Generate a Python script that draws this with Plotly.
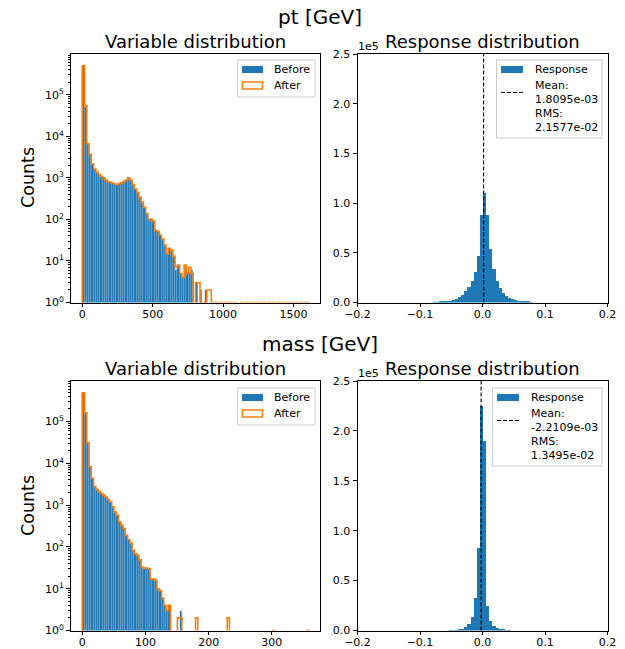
import numpy as np
import plotly.graph_objects as go

# ---------------- data ----------------
n_var_bins = 100
pt_max = 1608.0          # upper edge of the pt histogram range
mass_max = 358.4         # upper edge of the mass histogram range

pt_before = [500000, 50000, 6500, 3700, 2150, 1620, 1350, 1200, 1080, 1000,
             890, 810, 780, 740, 710, 690, 740, 760, 810, 890,
             1000, 890, 690, 540, 450, 340, 260, 195, 138, 100,
             100, 91, 55, 52, 42, 33, 24, 15, 20, 18,
             13, 6, 8, 5, 4, 7, 5, 5, 6, 1,
             3, 1, 2, 0, 2, 1, 0, 1, 0, 0,
             1, 0, 0, 1, 0, 0, 0, 1, 0, 0,
             0, 1, 0, 0, 0, 0, 1, 0, 0, 0,
             0, 0, 1, 0, 0, 0, 0, 0, 1, 0,
             0, 0, 0, 0, 0, 1, 0, 0, 0, 1]
pt_after = [500000, 55000, 6600, 3700, 2150, 1620, 1350, 1200, 1080, 1000,
            890, 810, 780, 740, 710, 690, 740, 760, 810, 890,
            1000, 890, 690, 540, 450, 340, 260, 195, 138, 100,
            100, 91, 55, 52, 42, 33, 24, 15, 20, 18,
            13, 7, 8, 5, 4, 8, 5, 7, 5, 0,
            3, 3, 1, 0, 1, 2, 2, 1, 0, 1,
            0, 1, 0, 1, 0, 1, 0, 1, 0, 0,
            1, 0, 1, 0, 1, 0, 1, 0, 1, 0,
            1, 0, 1, 0, 1, 0, 1, 0, 1, 0,
            1, 0, 1, 0, 1, 0, 1, 0, 1, 1]

mass_before = [490000, 162000, 31000, 8300, 4400, 2800, 2400, 2100, 1900, 1740,
               1580, 1380, 1200, 910, 690, 575, 400, 330, 275, 190,
               148, 123, 83, 69, 63, 49, 33, 31, 31, 30,
               17, 17, 16, 10, 9, 6, 4, 3, 4, 0,
               1, 0, 1, 3, 0, 0, 0, 0, 0, 0,
               1, 0, 0, 0, 0, 0, 0, 0, 0, 0,
               0, 0, 0, 0, 1, 0, 0, 0, 0, 0,
               0, 0, 0, 0, 0, 0, 0, 0, 0, 0,
               0, 0, 0, 0, 1, 0, 0, 0, 0, 0,
               0, 0, 0, 0, 0, 0, 0, 0, 0, 1]
mass_after = [490000, 162000, 31000, 8300, 4400, 2800, 2400, 2100, 1900, 1740,
              1580, 1380, 1200, 910, 690, 575, 400, 330, 275, 190,
              148, 123, 83, 69, 63, 49, 33, 31, 31, 30,
              17, 17, 16, 10, 9, 6, 4, 3, 4, 0,
              0, 0, 2, 2, 0, 0, 0, 0, 0, 0,
              2, 0, 0, 0, 0, 0, 0, 0, 0, 0,
              0, 0, 0, 0, 2, 0, 0, 0, 0, 0,
              0, 0, 0, 0, 0, 0, 0, 0, 0, 0,
              0, 0, 0, 0, 1, 0, 0, 0, 0, 0,
              0, 0, 0, 0, 0, 0, 0, 0, 0, 1]

resp_lo, resp_hi, resp_nbins = -0.2, 0.2, 80
pt_response = [0, 0, 0, 0, 0, 0, 0, 0, 0, 0,
               0, 0, 0, 0, 0, 0, 0, 0, 0, 0,
               0, 0, 0, 0, 340, 480, 680, 950, 1350, 1900,
               2700, 3800, 5500, 8000, 11500, 16000, 22000, 31000, 47000, 88000,
               110000, 88000, 54000, 34000, 22000, 14500, 10000, 7000, 4800, 3300,
               2300, 1600, 1100, 750, 520, 360, 0, 0, 0, 0,
               0, 0, 0, 0, 0, 0, 0, 0, 0, 0,
               0, 0, 0, 0, 0, 0, 0, 0, 0, 0]
mass_response = [0, 0, 0, 0, 0, 0, 0, 0, 0, 0,
                 0, 0, 0, 0, 0, 0, 0, 0, 0, 0,
                 0, 0, 0, 0, 0, 0, 0, 0, 0, 140,
                 250, 450, 850, 1700, 3300, 6700, 13700, 33000, 83000, 225000,
                 190000, 25000, 9300, 4800, 2500, 1300, 700, 380, 210, 0,
                 0, 0, 0, 0, 0, 0, 0, 0, 0, 0,
                 0, 0, 0, 0, 0, 0, 0, 0, 0, 0,
                 0, 0, 0, 0, 0, 0, 0, 0, 0, 0]

pt_mean, pt_rms = 1.8095e-03, 2.1577e-02
mass_mean, mass_rms = -2.2109e-03, 1.3495e-02

row_titles = ["pt [GeV]", "mass [GeV]"]
left_title = "Variable distribution"
right_title = "Response distribution"
y_label = "Counts"
var_legend_labels = ["Before", "After"]
resp_legend_label = "Response"
pt_ticks = [0, 500, 1000, 1500]
mass_ticks = [0, 100, 200, 300]
resp_ticks = [-0.2, -0.1, 0.0, 0.1, 0.2]
resp_ticktext = ["\u22120.2", "\u22120.1", "0.0", "0.1", "0.2"]
resp_yticks = [0, 50000, 100000, 150000, 200000, 250000]
resp_yticktext = ["0.0", "0.5", "1.0", "1.5", "2.0", "2.5"]

# ---------------- styling ----------------
W, H = 625, 649
BLUE = "#1f77b4"
ORANGE = "#ff7f0e"
FONT = "DejaVu Sans"


def px_x(v):
    return v / W


def px_y(v):
    return 1 - v / H


dom_x_left = [px_x(71), px_x(320)]
dom_x_right = [px_x(357.5), px_x(607.5)]
dom_y_top = [px_y(302.5), px_y(54)]
dom_y_bot = [px_y(630.5), px_y(381)]

fig = go.Figure()


def add_variable(counts_before, counts_after, vmax, xa, ya):
    edges = np.linspace(0, vmax, n_var_bins + 1)
    centers = 0.5 * (edges[:-1] + edges[1:])
    width = edges[1] - edges[0]
    b = np.array(counts_before, dtype=float)
    a = np.array(counts_after, dtype=float)
    fig.add_trace(go.Bar(x=centers, y=np.where(b > 1, b, np.nan), width=width,
                         marker=dict(color=BLUE, line=dict(color="rgba(255,255,255,0.35)", width=0.4)),
                         name=var_legend_labels[0], xaxis=xa, yaxis=ya))
    low = 0.3
    ay = np.where(a > 0, a, low)
    sx = np.concatenate([[edges[0]], edges[:-1], [edges[-1]], [edges[-1]]])
    sy = np.concatenate([[low], ay, [ay[-1]], [low]])
    fig.add_trace(go.Scatter(x=sx, y=sy, mode="lines", line=dict(color=ORANGE, width=1.6, shape="hv"),
                             name=var_legend_labels[1], xaxis=xa, yaxis=ya, hoverinfo="skip"))


def add_response(counts, mean, xa, ya):
    edges = np.linspace(resp_lo, resp_hi, resp_nbins + 1)
    centers = 0.5 * (edges[:-1] + edges[1:])
    width = edges[1] - edges[0]
    c = np.array(counts, dtype=float)
    fig.add_trace(go.Bar(x=centers, y=np.where(c > 0, c, np.nan), width=width,
                         marker=dict(color=BLUE, line=dict(width=0)),
                         name=resp_legend_label, xaxis=xa, yaxis=ya))
    fig.add_trace(go.Scatter(x=[mean, mean], y=[0, 250000], mode="lines",
                             line=dict(color="black", width=1.1, dash="4px,2px"),
                             name="Mean", xaxis=xa, yaxis=ya))


add_variable(pt_before, pt_after, pt_max, "x", "y")
add_response(pt_response, pt_mean, "x2", "y2")
add_variable(mass_before, mass_after, mass_max, "x3", "y3")
add_response(mass_response, mass_mean, "x4", "y4")

axis_common = dict(showline=True, mirror=True, linecolor="black", linewidth=0.9,
                   ticks="outside", ticklen=4, tickwidth=0.9, tickcolor="black",
                   showgrid=False, zeroline=False,
                   tickfont=dict(family=FONT, size=11, color="black"))

log_minor = [m * 10 ** e for e in range(0, 6) for m in range(2, 10)]
log_tickvals = [10 ** e for e in range(0, 6)]
log_ticktext = ["10<sup>%d</sup>" % e for e in range(0, 6)]


def log_yaxis(domain, anchor, top):
    return dict(axis_common, domain=domain, anchor=anchor, type="log", range=[0, top],
                tickvals=log_tickvals, ticktext=log_ticktext,
                minor=dict(tickvals=log_minor, ticks="outside", ticklen=2.2, tickwidth=0.7,
                           tickcolor="black", showgrid=False))


def var_xaxis(domain, anchor, vmax, ticks):
    pad = 0.05 * vmax
    return dict(axis_common, domain=domain, anchor=anchor, range=[-pad, vmax + pad],
                tickvals=ticks, ticktext=[str(t) for t in ticks], ticklabelstandoff=-3)


def resp_xaxis(domain, anchor):
    return dict(axis_common, domain=domain, anchor=anchor, range=[resp_lo, resp_hi],
                tickvals=resp_ticks, ticktext=resp_ticktext, ticklabelstandoff=-3)


def resp_yaxis(domain, anchor):
    return dict(axis_common, domain=domain, anchor=anchor, range=[0, 250000],
                tickvals=resp_yticks, ticktext=resp_yticktext)


fig.update_layout(
    width=W, height=H, margin=dict(l=0, r=0, t=0, b=0, autoexpand=False),
    paper_bgcolor="white", plot_bgcolor="white", bargap=0, barmode="overlay",
    font=dict(family=FONT, color="black"), showlegend=False,
    xaxis=var_xaxis(dom_x_left, "y", pt_max, pt_ticks),
    yaxis=log_yaxis(dom_y_top, "x", 5.98),
    xaxis2=resp_xaxis(dom_x_right, "y2"),
    yaxis2=resp_yaxis(dom_y_top, "x2"),
    xaxis3=var_xaxis(dom_x_left, "y3", mass_max, mass_ticks),
    yaxis3=log_yaxis(dom_y_bot, "x3", 5.97),
    xaxis4=resp_xaxis(dom_x_right, "y4"),
    yaxis4=resp_yaxis(dom_y_bot, "x4"),
)

annotations = []
shapes = []


def text(t, x, y, size, xanchor="left", angle=0, align="left"):
    annotations.append(dict(text=t, x=px_x(x), y=px_y(y), xref="paper", yref="paper",
                            showarrow=False, xanchor=xanchor, yanchor="middle", textangle=angle,
                            align=align, font=dict(family=FONT, size=size, color="black")))


def rect(x0, y0, x1, y1, fill, line_color=None, line_width=0):
    shapes.append(dict(type="rect", xref="paper", yref="paper", layer="above",
                       x0=px_x(x0), x1=px_x(x1), y0=px_y(y0), y1=px_y(y1), fillcolor=fill,
                       line=dict(color=line_color or "rgba(0,0,0,0)", width=line_width)))


for row, (ty, sub_y, ax_top, ax_mid) in enumerate([(17, 41, 54, 178), (344, 368, 381, 506)]):
    text(row_titles[row], 320, ty, 20, "center")
    text(left_title, 195.5, sub_y, 18, "center")
    text(right_title, 482.5, sub_y, 18, "center")
    text(y_label, 28, ax_mid, 17.5, "center", -90)
    text("1e5", 356, ax_top - 8, 11)

# ---- legends (drawn as boxes with real text) ----
for top in (60, 388):
    rect(237.5, top, 315, top + 37, "rgba(255,255,255,0.8)", "#cccccc", 1)
    rect(242, top + 6, 263, top + 13, BLUE)
    text(var_legend_labels[0], 272, top + 9.5, 11)
    rect(242.5, top + 22, 262.5, top + 29, "white", ORANGE, 1.6)
    text(var_legend_labels[1], 272, top + 25.5, 11)

for top, mean, rms, left in ((60, pt_mean, pt_rms, 496.5), (388, mass_mean, mass_rms, 492.5)):
    rect(left, top, 602, top + 78, "rgba(255,255,255,0.8)", "#cccccc", 1)
    hx0 = left + 4.5
    tx = left + 36
    rect(hx0, top + 6, hx0 + 22, top + 13, BLUE)
    text(resp_legend_label, tx, top + 9.5, 11)
    shapes.append(dict(type="line", xref="paper", yref="paper", layer="above",
                       x0=px_x(hx0), x1=px_x(hx0 + 22), y0=px_y(top + 32.5), y1=px_y(top + 32.5),
                       line=dict(color="black", width=1.1, dash="4px,2px")))
    text("Mean:<br>%.4e" % mean, tx, top + 32.5, 11)
    text("RMS:<br>%.4e" % rms, tx, top + 60.5, 11)

fig.update_layout(annotations=annotations, shapes=shapes)

fig.write_html("out.html")
